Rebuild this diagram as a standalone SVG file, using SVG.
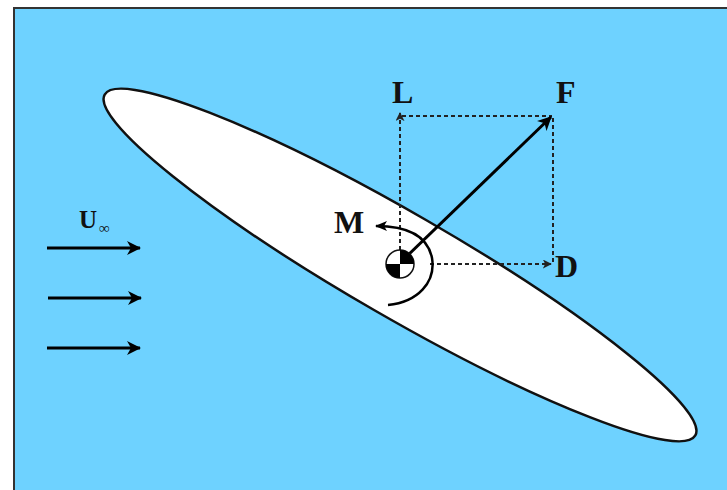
<svg xmlns="http://www.w3.org/2000/svg" width="727" height="490" viewBox="0 0 727 490">
<style>
.lbl{font-family:"Liberation Serif","Times New Roman",serif;font-weight:bold;fill:#111}
.dash{stroke:#222;stroke-width:2;stroke-dasharray:4 3;fill:none}
.solid{stroke:#000;fill:none}
</style>
<defs>
<marker id="ah" viewBox="0 0 12 10" refX="11" refY="5" markerWidth="12" markerHeight="10" markerUnits="userSpaceOnUse" orient="auto">
<path d="M0,0 L12,5 L0,10 L3,5 Z" fill="#000"/>
</marker>
<marker id="ahBig" viewBox="0 0 14 14" refX="13" refY="7" markerWidth="14" markerHeight="14" markerUnits="userSpaceOnUse" orient="auto">
<path d="M0,0 L14,7 L0,14 L4,7 Z" fill="#000"/>
</marker>
<marker id="ahS" viewBox="0 0 10 10" refX="9" refY="5" markerWidth="9" markerHeight="9" markerUnits="userSpaceOnUse" orient="auto">
<path d="M0,0 L10,5 L0,10 L2.5,5 Z" fill="#222"/>
</marker>
</defs>
<rect x="0" y="0" width="727" height="490" fill="#fff"/>
<g id="background">
<rect x="14" y="8" width="730" height="500" fill="#6ed2ff" stroke="#333" stroke-width="2"/>
</g>
<g id="body">
<ellipse cx="400" cy="265" rx="341" ry="52" transform="rotate(30 400 265)" fill="#fff" stroke="#111" stroke-width="2.5"/>
</g>
<g id="connectors">
<line class="solid" x1="47" y1="248" x2="140" y2="248" stroke-width="3" marker-end="url(#ahBig)"/>
<line class="solid" x1="48" y1="298" x2="141" y2="298" stroke-width="3" marker-end="url(#ahBig)"/>
<line class="solid" x1="47" y1="348" x2="140" y2="348" stroke-width="3" marker-end="url(#ahBig)"/>
<line class="dash" x1="400" y1="250" x2="400" y2="113" marker-end="url(#ahS)"/>
<line class="dash" x1="402" y1="116" x2="552" y2="116"/>
<line class="dash" x1="553" y1="118" x2="553" y2="262"/>
<line class="dash" x1="430" y1="264" x2="551" y2="264" marker-end="url(#ahS)"/>
<line class="solid" x1="406" y1="257" x2="551" y2="117" stroke-width="3" marker-end="url(#ahBig)"/>
<path class="solid" d="M388,305 C418,302 436,282 432,258 C428,238 410,226 376,226" stroke-width="2.5" marker-end="url(#ah)"/>
</g>
<g id="cg">
<circle cx="400" cy="264" r="14" fill="#fff" stroke="#111" stroke-width="1.5"/>
<path d="M400,264 L400,250 A14,14 0 0 1 414,264 Z" fill="#000"/>
<path d="M400,264 L400,278 A14,14 0 0 1 386,264 Z" fill="#000"/>
</g>
<g id="labels">
<text class="lbl" x="392" y="103" font-size="32">L</text>
<text class="lbl" x="556" y="103" font-size="32">F</text>
<text class="lbl" x="334" y="233" font-size="32">M</text>
<text class="lbl" x="555" y="277" font-size="32">D</text>
<text class="lbl" x="79" y="228" font-size="25">U</text>
<text class="lbl" x="99" y="233" font-size="15">∞</text>
</g>
</svg>
